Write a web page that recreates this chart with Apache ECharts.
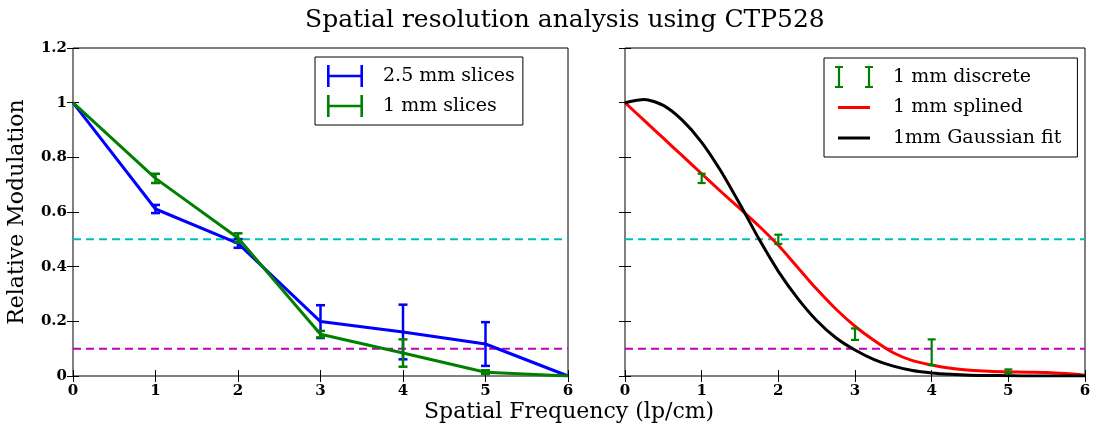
<!DOCTYPE html>
<html>
<head>
<meta charset="utf-8">
<script src="https://cdn.jsdelivr.net/npm/echarts@6/dist/echarts.min.js"></script>
<style>html,body{margin:0;padding:0;background:#fff}#c{width:1095px;height:430px}</style>
</head>
<body>
<div id="c"></div>
<script>
// ---- data ----
const titleText = 'Spatial resolution analysis using CTP528';
const xName = 'Spatial Frequency (lp/cm)';
const yName = 'Relative Modulation';
const xTicks = [0, 1, 2, 3, 4, 5, 6];
const yTicks = [0, 0.2, 0.4, 0.6, 0.8, 1.0, 1.2];

const freq = [0, 1, 2, 3, 4, 5, 6];
const mod25 = [1.0, 0.611, 0.485, 0.199, 0.161, 0.117, 0.0];
const err25 = [0, 0.015, 0.016, 0.06, 0.1, 0.08, 0];
const mod1 = [1.0, 0.723, 0.505, 0.153, 0.084, 0.014, 0.0];
const err1 = [0, 0.017, 0.017, 0.012, 0.05, 0.007, 0];

const discreteFreq = [1, 2, 3, 4, 5];
const discreteVal = [0.723, 0.50, 0.153, 0.087, 0.017];
const discreteErr = [0.017, 0.017, 0.021, 0.047, 0.007];

const curveFreq = [0, 0.25, 0.5, 0.75, 1, 1.25, 1.5, 1.75, 2, 2.25, 2.5, 2.75, 3,
                   3.25, 3.5, 3.75, 4, 4.25, 4.5, 4.75, 5, 5.25, 5.5, 5.75, 6];
const splined = [1.0, 0.935, 0.87, 0.805, 0.74, 0.675, 0.612, 0.548, 0.478, 0.398, 0.318, 0.245, 0.182,
                 0.13, 0.085, 0.056, 0.04, 0.028, 0.021, 0.017, 0.015, 0.014, 0.013, 0.009, 0.003];
const gaussFit = [1.0, 1.012, 0.99, 0.935, 0.855, 0.75, 0.628, 0.5, 0.383, 0.285, 0.203, 0.14, 0.095,
                  0.06, 0.036, 0.02, 0.011, 0.006, 0.003, 0.002, 0.001, 0, 0, 0, 0];

const thresholds = [0.5, 0.1];

const legendLeft = ['2.5 mm slices', '1 mm slices'];
const legendRight = ['1 mm discrete', '1 mm splined', '1mm Gaussian fit'];

// ---- build ----
const serif = 'DejaVu Serif';
const zip = (a, b) => a.map((v, i) => [v, b[i]]);
const zip3 = (a, b, c) => a.map((v, i) => [v, b[i], c[i]]);

function errRender(capHalf, lw) {
  return function (params, api) {
    const x = api.value(0), y = api.value(1), e = api.value(2);
    if (!e) return null;
    const t = api.coord([x, y + e]);
    const b = api.coord([x, y - e]);
    const style = { stroke: api.visual('color'), lineWidth: lw, fill: null };
    return {
      type: 'group',
      children: [
        { type: 'line', shape: { x1: t[0], y1: t[1], x2: b[0], y2: b[1] }, style },
        { type: 'line', shape: { x1: t[0] - capHalf, y1: t[1], x2: t[0] + capHalf, y2: t[1] }, style },
        { type: 'line', shape: { x1: b[0] - capHalf, y1: b[1], x2: b[0] + capHalf, y2: b[1] }, style }
      ]
    };
  };
}

function xAx(gridIndex, pos, labels) {
  return {
    type: 'value', gridIndex, position: pos, min: xTicks[0], max: xTicks[xTicks.length - 1], interval: 1,
    axisLine: { show: false },
    axisTick: { show: true, inside: true, length: 6, lineStyle: { color: '#000', width: 1 } },
    axisLabel: { show: labels, margin: 8, color: '#000', fontFamily: serif, fontWeight: 'bold', fontSize: 15 },
    splitLine: { show: false }
  };
}
function yAx(gridIndex, pos, labels, name) {
  return {
    type: 'value', gridIndex, position: pos, min: yTicks[0], max: yTicks[yTicks.length - 1], interval: 0.2,
    name: name || '', nameLocation: 'middle', nameGap: 45, nameRotate: 90,
    nameTextStyle: { fontFamily: serif, fontSize: 22, color: '#000' },
    axisLine: { show: false },
    axisTick: { show: true, inside: true, length: 6, lineStyle: { color: '#000', width: 1 } },
    axisLabel: { show: labels, margin: 6, color: '#000', fontFamily: serif, fontWeight: 'bold', fontSize: 15,
                 formatter: v => String(+v.toFixed(1)) },
    splitLine: { show: false }
  };
}

function hline(xi, yi, val, color) {
  return {
    type: 'line', xAxisIndex: xi, yAxisIndex: yi, data: [[xTicks[0], val], [xTicks[xTicks.length - 1], val]],
    symbol: 'none', silent: true, lineStyle: { color, width: 2, type: [8, 5] }, z: 1
  };
}

const W = 51, H = 22;
const errIconH = 'path://M0,0 M' + W + ',' + H + ' M0,0h2.6v22h-2.6z M0,9.7h36v2.6h-36z M33.4,0h2.6v22h-2.6z';
const W2 = 53;
const discIcon = 'path://M0,0 M' + W2 + ',' + H + ' M0,0h8v2h-8z M2.9,0h2.2v22h-2.2z M0,20h8v2h-8z M30,0h8v2h-8z M32.9,0h2.2v22h-2.2z M30,20h8v2h-8z';
const lineIcon = 'path://M0,0 M' + W2 + ',' + H + ' M3,9.5h32v3h-32z';

const cyan = '#00bfbf', magenta = '#bf00bf';

const option = {
  animation: false,
  backgroundColor: '#fff',
  title: [
    { text: titleText, left: 300, top: 3, textStyle: { fontFamily: serif, fontSize: 25, fontWeight: 'normal', color: '#000' } },
    { text: xName, left: 419, top: 396, textStyle: { fontFamily: serif, fontSize: 22, fontWeight: 'normal', color: '#000' } }
  ],
  grid: [
    { left: 73, top: 48, width: 495, height: 328, show: true, borderColor: '#000', borderWidth: 1, backgroundColor: 'transparent' },
    { left: 625, top: 48, width: 460, height: 328, show: true, borderColor: '#000', borderWidth: 1, backgroundColor: 'transparent' }
  ],
  xAxis: [xAx(0, 'bottom', true), xAx(0, 'top', false), xAx(1, 'bottom', true), xAx(1, 'top', false)],
  yAxis: [yAx(0, 'left', true, yName), yAx(0, 'right', false), yAx(1, 'left', false), yAx(1, 'right', false)],
  legend: [
    {
      left: 315, top: 57, orient: 'vertical', itemWidth: W, itemHeight: H, itemGap: 8,
      padding: [8, 8, 8, 12], borderColor: '#000', borderWidth: 1, borderRadius: 0, backgroundColor: '#fff',
      textStyle: { fontFamily: serif, fontSize: 19, color: '#000' },
      itemStyle: { borderWidth: 0 }, selectedMode: false,
      data: [{ name: legendLeft[0], icon: errIconH }, { name: legendLeft[1], icon: errIconH }]
    },
    {
      left: 824, top: 58, orient: 'vertical', itemWidth: W2, itemHeight: H, itemGap: 8.5,
      padding: [8, 16, 8, 11], borderColor: '#000', borderWidth: 1, borderRadius: 0, backgroundColor: '#fff',
      textStyle: { fontFamily: serif, fontSize: 19, color: '#000' },
      itemStyle: { borderWidth: 0 }, selectedMode: false,
      data: [{ name: legendRight[0], icon: discIcon }, { name: legendRight[1], icon: lineIcon }, { name: legendRight[2], icon: lineIcon }]
    }
  ],
  series: [
    hline(0, 0, thresholds[0], cyan), hline(0, 0, thresholds[1], magenta),
    hline(2, 2, thresholds[0], cyan), hline(2, 2, thresholds[1], magenta),
    { name: legendLeft[0], type: 'line', xAxisIndex: 0, yAxisIndex: 0, data: zip(freq, mod25), symbol: 'none',
      lineStyle: { color: '#0000ff', width: 3 }, itemStyle: { color: '#0000ff' }, z: 3 },
    { name: legendLeft[0], type: 'custom', xAxisIndex: 0, yAxisIndex: 0, data: zip3(freq, mod25, err25),
      renderItem: errRender(4.5, 2.5), itemStyle: { color: '#0000ff' }, z: 3 },
    { name: legendLeft[1], type: 'line', xAxisIndex: 0, yAxisIndex: 0, data: zip(freq, mod1), symbol: 'none',
      lineStyle: { color: '#008000', width: 3 }, itemStyle: { color: '#008000' }, z: 4 },
    { name: legendLeft[1], type: 'custom', xAxisIndex: 0, yAxisIndex: 0, data: zip3(freq, mod1, err1),
      renderItem: errRender(4.5, 2.5), itemStyle: { color: '#008000' }, z: 4 },
    { name: legendRight[1], type: 'line', xAxisIndex: 2, yAxisIndex: 2, data: zip(curveFreq, splined), symbol: 'none',
      smooth: 0.25, lineStyle: { color: '#ff0000', width: 3 }, itemStyle: { color: '#ff0000' }, z: 3 },
    { name: legendRight[2], type: 'line', xAxisIndex: 2, yAxisIndex: 2, data: zip(curveFreq, gaussFit), symbol: 'none',
      smooth: 0.25, lineStyle: { color: '#000000', width: 3 }, itemStyle: { color: '#000000' }, z: 3 },
    { name: legendRight[0], type: 'custom', xAxisIndex: 2, yAxisIndex: 2, data: zip3(discreteFreq, discreteVal, discreteErr),
      renderItem: errRender(4, 2.2), itemStyle: { color: '#008000' }, z: 5 }
  ]
};

const chart = echarts.init(document.getElementById('c'), null, { renderer: 'canvas' });
chart.setOption(option);
</script>
</body>
</html>
